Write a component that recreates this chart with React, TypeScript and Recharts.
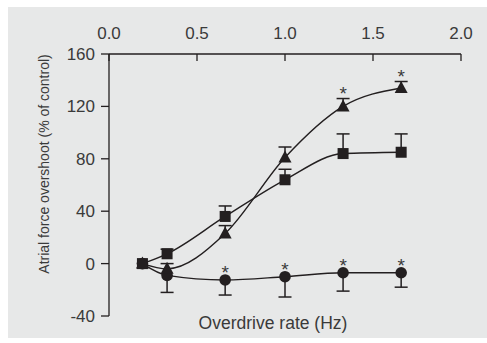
import { ComposedChart, Line, XAxis, YAxis, ErrorBar } from 'recharts';

// overdrive pacing rates (Hz)
const rates = [0.19, 0.33, 0.66, 1.0, 1.33, 1.66];

// atrial force overshoot, % of control (mean) and SEM
const squareVals = [0, 7.5, 36, 64, 84, 85];
const squareErr = [0, 3.5, 8, 8, 15, 14];
const triangleVals = [0, -4, 23, 81, 120, 134];
const triangleErr = [0, 4, 6, 8, 6, 5];
const circleVals = [0, -9, -12.5, -10, -7, -7];
const circleErr = [0, 13, 11.5, 15.5, 14, 11];

// significance markers (*)
const triangleStars = [false, false, false, false, true, true];
const circleStars = [false, false, true, true, true, true];

const xTicks = [0, 0.5, 1.0, 1.5, 2.0];
const yTicks = [-40, 0, 40, 80, 120, 160];

const INK = '#231f20';
const TEXT = '#3a3a3a';
const FONT = '"Liberation Sans", Arial, Helvetica, sans-serif';

const data = rates.map((x, i) => ({
  x,
  sq: squareVals[i],
  sqErr: [0, squareErr[i]],
  sqHi: i === 0 ? null : squareVals[i] + squareErr[i],
  tri: triangleVals[i],
  triErr: [0, triangleErr[i]],
  triHi: i === 0 ? null : triangleVals[i] + triangleErr[i],
  triStar: triangleStars[i],
  ci: circleVals[i],
  ciErr: [circleErr[i], 0],
  ciLo: i === 0 ? null : circleVals[i] - circleErr[i],
  ciStar: circleStars[i],
}));

const Star = ({ x, y }: { x: number; y: number }) => (
  <text x={x} y={y} textAnchor="middle" fontSize={19} fontFamily={FONT} fill={TEXT}>
    *
  </text>
);

const squareDot = (p: any) => {
  const { cx, cy, index } = p;
  if (cy == null) return <g key={`sq-${index}`} />;
  return <rect key={`sq-${index}`} x={cx - 5.5} y={cy - 5.5} width={11} height={11} fill={INK} />;
};

const triangleDot = (p: any) => {
  const { cx, cy, index } = p;
  if (cy == null) return <g key={`tri-${index}`} />;
  return (
    <polygon
      key={`tri-${index}`}
      points={`${cx},${cy - 7} ${cx + 6.5},${cy + 5} ${cx - 6.5},${cy + 5}`}
      fill={INK}
    />
  );
};

const circleDot = (p: any) => {
  const { cx, cy, index, payload } = p;
  if (cy == null) return <g key={`ci-${index}`} />;
  return (
    <g key={`ci-${index}`}>
      <circle cx={cx} cy={cy} r={5.8} fill={INK} />
      {payload.ciStar && <Star x={cx} y={cy - 1} />}
    </g>
  );
};

const capDot = (starKey?: string) => (p: any) => {
  const { cx, cy, index, payload } = p;
  if (cy == null) return <g key={`cap-${index}`} />;
  return (
    <g key={`cap-${index}`}>
      <line x1={cx - 6.5} x2={cx + 6.5} y1={cy} y2={cy} stroke={INK} strokeWidth={1.5} />
      {starKey && payload[starKey] && <Star x={cx} y={cy + 1} />}
    </g>
  );
};

const TopTick = (props: any) => {
  const { x, y, payload } = props;
  return (
    <g>
      <line x1={x} x2={x} y1={y} y2={y + 7} stroke={INK} strokeWidth={1.3} />
      <text x={x} y={y - 15} textAnchor="middle" fontSize={17} fontFamily={FONT} fill={TEXT}>
        {payload.value.toFixed(1)}
      </text>
    </g>
  );
};

export default function App() {
  return (
    <div style={{ position: 'absolute', left: 0, top: 0, width: 487, height: 343, background: '#fff' }}>
      <div style={{ position: 'absolute', left: 8, top: 7, width: 479, height: 331, background: '#e7e8e8' }} />
      <div style={{ position: 'absolute', left: 0, top: 0 }}>
        <ComposedChart width={487} height={343} data={data} margin={{ top: 0, right: 26, bottom: 27, left: 0 }}>
          <XAxis
            type="number"
            dataKey="x"
            orientation="top"
            domain={[0, 2]}
            ticks={xTicks}
            height={54}
            tickSize={0}
            tickMargin={0}
            tickLine={false}
            axisLine={{ stroke: INK, strokeWidth: 1.3 }}
            tick={<TopTick />}
            label={{
              content: () => (
                <text x={273} y={323} textAnchor="middle" dominantBaseline="central" fontSize={17.5} fontFamily={FONT} fill={TEXT}>
                  Overdrive rate (Hz)
                </text>
              ),
            }}
          />
          <YAxis
            type="number"
            domain={[-40, 160]}
            ticks={yTicks}
            width={109}
            tickSize={8}
            tickMargin={6}
            axisLine={{ stroke: INK, strokeWidth: 1.3 }}
            tickLine={{ stroke: INK, strokeWidth: 1.3 }}
            tick={{ fontSize: 17, fontFamily: FONT, fill: TEXT }}
            label={{
              content: () => (
                <text
                  x={44}
                  y={164}
                  transform="rotate(-90 44 164)"
                  textAnchor="middle"
                  dominantBaseline="central"
                  fontSize={14}
                  fontFamily={FONT}
                  fill={TEXT}
                >
                  Atrial force overshoot (% of control)
                </text>
              ),
            }}
          />

          {/* error bar caps */}
          <Line dataKey="ciLo" stroke="none" dot={capDot()} activeDot={false} isAnimationActive={false} legendType="none" />
          <Line dataKey="triHi" stroke="none" dot={capDot('triStar')} activeDot={false} isAnimationActive={false} legendType="none" />
          <Line dataKey="sqHi" stroke="none" dot={capDot()} activeDot={false} isAnimationActive={false} legendType="none" />

          <Line type="monotone" dataKey="ci" stroke={INK} strokeWidth={1.4} dot={circleDot} activeDot={false} isAnimationActive={false}>
            <ErrorBar dataKey="ciErr" width={0} stroke={INK} strokeWidth={1.5} direction="y" />
          </Line>
          <Line type="monotone" dataKey="tri" stroke={INK} strokeWidth={1.4} dot={triangleDot} activeDot={false} isAnimationActive={false}>
            <ErrorBar dataKey="triErr" width={0} stroke={INK} strokeWidth={1.5} direction="y" />
          </Line>
          <Line type="monotone" dataKey="sq" stroke={INK} strokeWidth={1.4} dot={squareDot} activeDot={false} isAnimationActive={false}>
            <ErrorBar dataKey="sqErr" width={0} stroke={INK} strokeWidth={1.5} direction="y" />
          </Line>
        </ComposedChart>
      </div>
    </div>
  );
}
